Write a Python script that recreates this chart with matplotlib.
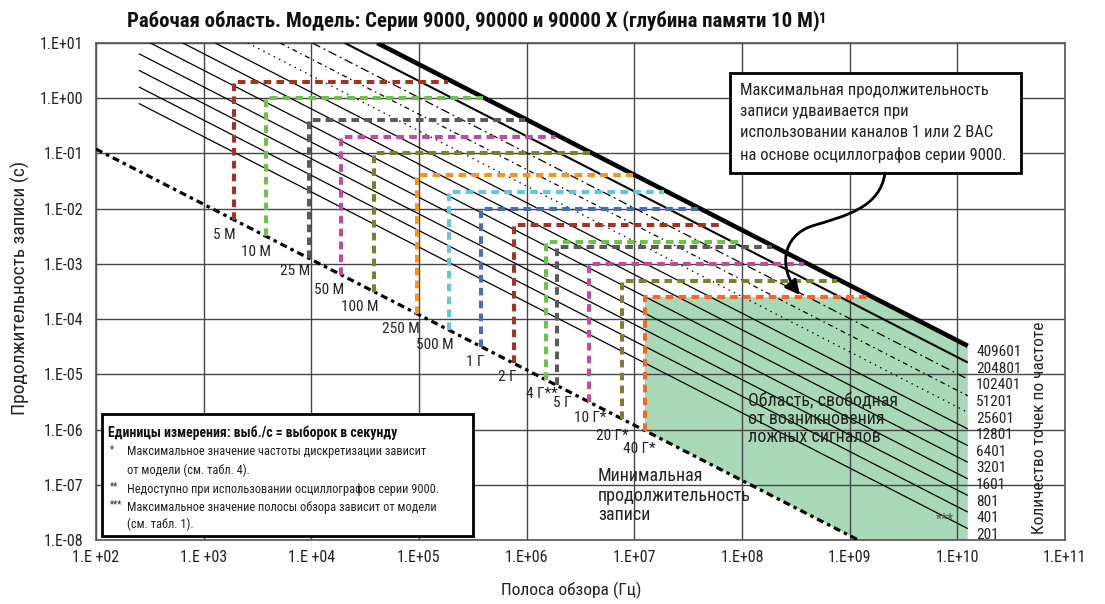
import numpy as np
import matplotlib
matplotlib.use('Agg')
import matplotlib.pyplot as plt
from matplotlib import font_manager
from matplotlib.patches import Polygon, Rectangle, FancyArrowPatch
from matplotlib.path import Path

# ---------------- fonts ----------------
_names = {f.name for f in font_manager.fontManager.ttflist}
BASE = next((n for n in ['Liberation Sans Narrow', 'Roboto Condensed', 'DejaVu Sans Condensed']
             if n in _names), 'Liberation Sans')
plt.rcParams['font.family'] = [BASE, 'DejaVu Sans']

# ---------------- data ----------------
x_ticks = [1e2, 1e3, 1e4, 1e5, 1e6, 1e7, 1e8, 1e9, 1e10, 1e11]
x_tick_labels = ['1.E +02', '1.E +03', '1.E +04', '1.E+05', '1.E+06', '1.E+07',
                 '1.E+08', '1.E+09', '1.E+10', '1.E+11']
y_ticks = [1e1, 1e0, 1e-1, 1e-2, 1e-3, 1e-4, 1e-5, 1e-6, 1e-7, 1e-8]
y_tick_labels = ['1.E+01', '1.E+00', '1.E-01', '1.E-02', '1.E-03', '1.E-04',
                 '1.E-05', '1.E-06', '1.E-07', '1.E-08']

# frequency-point diagonal lines (record time = points / span)
point_counts = [201, 401, 801, 1601, 3201, 6401, 12801, 25601, 51201, 102401, 204801, 409601]
point_labels = ['201', '401', '801', '1601', '3201', '6401', '12801', '25601',
                '51201', '102401', '204801', '409601']
diag_span_start = 250.0
diag_span_end = 1.25e10
diag_time_top = 10.0

# minimum record time line
min_line_span = [1e2, 1.2e9]
min_line_time = [0.12, 1e-8]

# sample-rate rectangles
rate_labels = ['5 М', '10 М', '25 М', '50 М', '100 М', '250 М', '500 М',
               '1 Г', '2 Г', '4 Г**', '5 Г', '10 Г*', '20 Г*', '40 Г*']
rate_max_time = [2, 1, 0.4, 0.2, 0.1, 0.04, 0.02, 0.01, 0.005, 0.0025, 0.002,
                 0.001, 0.0005, 0.00025]
rate_span_left = [1.9e3, 3.8e3, 9.5e3, 1.9e4, 3.8e4, 9.5e4, 1.9e5, 3.8e5, 7.6e5,
                  1.5e6, 1.9e6, 3.8e6, 7.6e6, 1.25e7]
rate_span_right = [1.85e5, 3.9e5, 9.6e5, 1.83e6, 3.9e6, 9.7e6, 1.9e7, 3.9e7, 6.7e7,
                   9.6e7, 1.9e8, 3.8e8, 7.7e8, 1.55e9]
RED, GREEN, GRAY, MAG, OLIVE = '#a3341f', '#6cc34a', '#5a5a5a', '#c24b9e', '#7e7e2e'
ORANGE, CYAN, BLUE, ORANGE2 = '#f7941d', '#62c7dd', '#4b6cb4', '#f26a22'
rate_colors = [RED, GREEN, GRAY, MAG, OLIVE, ORANGE, CYAN, BLUE,
               RED, GREEN, GRAY, MAG, OLIVE, ORANGE2]

# label layout (pixel offsets of each rate label from the foot of its vertical)
rate_label_dx = [2, 5, 1, 3, 5, 3, 5, 3, 3, 12, 15, 17, 7, 11]
rate_label_dy = [15, 16, 13, 15, 15, 15, 15, 15, 14, 14, 18, 16, 17, 18]

# ---------------- figure ----------------
W, H = 1105, 604
fig = plt.figure(figsize=(W / 100, H / 100), dpi=100)
ax = fig.add_axes([96 / W, 1 - 540 / H, (1065 - 96) / W, (540 - 43) / H])
ax.set_xscale('log')
ax.set_yscale('log')
ax.set_xlim(1e2, 1e11)
ax.set_ylim(1e-8, 1e1)
TXT = '#222222'


def px(x, y):
    return (x / W, 1 - y / H)


def min_time_at(span):
    return 10 ** np.interp(np.log10(span), np.log10(min_line_span), np.log10(min_line_time))


# green spur-free region
last = len(rate_labels) - 1
thick_n = point_counts[-1]
green_pts = [
    (rate_span_left[last], rate_max_time[last]),
    (thick_n / rate_max_time[last], rate_max_time[last]),
    (diag_span_end, thick_n / diag_span_end),
    (diag_span_end, 1e-8),
    (min_line_span[-1], min_line_time[-1]),
    (rate_span_left[last], min_time_at(rate_span_left[last])),
]
ax.add_patch(Polygon(green_pts, closed=True, facecolor='#a9d9b9', edgecolor='none', zorder=1))

# grid
ax.set_xticks(x_ticks)
ax.set_xticklabels(x_tick_labels)
ax.set_yticks(y_ticks)
ax.set_yticklabels(y_tick_labels)
ax.minorticks_off()
ax.grid(True, which='major', color='#454545', lw=1.0, zorder=1.5)
ax.tick_params(axis='both', length=0, labelsize=11.5, colors=TXT)
ax.tick_params(axis='y', pad=9)
ax.tick_params(axis='x', pad=7)
for s in ax.spines.values():
    s.set_color('#555555')
    s.set_linewidth(1.2)

# diagonal lines
for n in point_counts:
    s0 = max(diag_span_start, n / diag_time_top)
    xs = np.array([s0, diag_span_end])
    ys = n / xs
    kw = dict(color='black', lw=0.9, zorder=3)
    if n == 409601:
        kw.update(lw=3.3)
    elif n == 204801:
        kw.update(lw=1.5)
    elif n == 102401:
        kw.update(dashes=(7, 3, 1.5, 3))
    elif n == 51201:
        kw.update(dashes=(4, 3, 1.2, 3))
    elif n == 25601:
        kw.update(dashes=(1.2, 3.5))
    ax.plot(xs, ys, solid_capstyle='butt', **kw)

# minimum record time line
ax.plot(min_line_span, min_line_time, color='black', lw=2.3,
        dashes=(2.2, 1.3, 1.1, 1.3), zorder=4)

# sample-rate rectangles
for i, (lab, t, sl, sr, c) in enumerate(zip(rate_labels, rate_max_time, rate_span_left,
                                            rate_span_right, rate_colors)):
    tb = min_time_at(sl)
    ax.plot([sl, sl, sr], [tb, t, t], color=c, lw=2.9, dashes=(1.9, 1.3),
            solid_joinstyle='miter', zorder=5)
    ax.annotate(lab, xy=(sl, tb),
                xytext=(rate_label_dx[i] * 0.72, -rate_label_dy[i] * 0.72),
                textcoords='offset points', ha='right', va='center',
                fontsize=11, color=TXT, zorder=6)

# right side labels
for n, lab in zip(point_counts, point_labels):
    ax.annotate(lab, xy=(diag_span_end, n / diag_span_end), xytext=(6, -4.5),
                textcoords='offset points', ha='left', va='center', fontsize=11,
                color=TXT, annotation_clip=False, zorder=6)

ax.text(9.3e9, 2.3e-8, '***', ha='right', va='center', fontsize=10, color='#555555', zorder=6)

# region texts
ax.text(*px(748, 392), 'Область, свободная\nот возникновения\nложных сигналов',
        transform=fig.transFigure, ha='left', va='top', fontsize=13,
        linespacing=1.0, color=TXT, zorder=6)
ax.text(*px(598, 467), 'Минимальная\nпродолжительность\nзаписи',
        transform=fig.transFigure, ha='left', va='top', fontsize=13,
        linespacing=1.12, color=TXT, zorder=6)

# axis labels and title
fig.text(*px(20, 288), 'Продолжительность записи (с)', rotation=90, ha='center',
         va='center', fontsize=14, color=TXT)
fig.text(*px(571, 590), 'Полоса обзора (Гц)', ha='center', va='center',
         fontsize=12.5, color=TXT)
fig.text(*px(1040, 428), 'Количество точек по частоте', rotation=90, ha='center',
         va='center', fontsize=12.5, color=TXT)
t = fig.text(*px(127, 21), 'Рабочая область. Модель: Серии 9000, 90000 и 90000 X (глубина памяти 10 M)',
             ha='left', va='center', fontsize=15, fontweight='bold', color='#111111')
fig.canvas.draw()
bb = t.get_window_extent()
fig.text((bb.x1 - 0.5) / W, (bb.y1 - 1) / H, '1', ha='left', va='top', fontsize=10.5,
         fontweight='bold', color='#111111')

# callout box
bx0, by0, bx1, by1 = 730, 73, 1021, 173
fig.patches.append(Rectangle(px(bx0, by1), (bx1 - bx0) / W, (by1 - by0) / H,
                             transform=fig.transFigure, facecolor='white',
                             edgecolor='black', lw=2, zorder=7))
fig.text(*px(740, 123), 'Максимальная продолжительность\nзаписи удваивается при\n'
         'использовании каналов 1 или 2 ВАС\nна основе осциллографов серии 9000.',
         ha='left', va='center', fontsize=12, linespacing=1.5, color=TXT, zorder=8)
verts = [px(885, 173), px(880, 208), px(845, 216), px(812, 226),
         px(782, 236), px(778, 268), px(800, 295)]
codes = [Path.MOVETO, Path.CURVE4, Path.CURVE4, Path.CURVE4,
         Path.CURVE4, Path.CURVE4, Path.CURVE4]
arrow = FancyArrowPatch(path=Path(verts, codes), arrowstyle='-|>', mutation_scale=22,
                        lw=2, color='black', transform=fig.transFigure, zorder=8)
fig.patches.append(arrow)

# footnote box
fx0, fy0, fx1, fy1 = 102, 414, 473, 536
fig.patches.append(Rectangle(px(fx0, fy1), (fx1 - fx0) / W, (fy1 - fy0) / H,
                             transform=fig.transFigure, facecolor='white',
                             edgecolor='black', lw=2, zorder=7))
fs = 8.9
fig.text(*px(108, 433), 'Единицы измерения: выб./с = выборок в секунду', ha='left',
         va='center', fontsize=9.9, fontweight='bold', color='#111111', zorder=8)
rows = [
    (452, '*', 'Максимальное значение частоты дискретизации зависит'),
    (470, '', 'от модели (см. табл. 4).'),
    (489, '**', 'Недоступно при использовании осциллографов серии 9000.'),
    (507, '***', 'Максимальное значение полосы обзора зависит от модели'),
    (524, '', '(см. табл. 1).'),
]
for y, star, txt in rows:
    if star:
        fig.text(*px(110, y - 3), star, ha='left', va='center', fontsize=7,
                 color=TXT, zorder=8)
    fig.text(*px(127, y), txt, ha='left', va='center', fontsize=fs,
             color=TXT, zorder=8)

fig.savefig('out.png', dpi=100)
